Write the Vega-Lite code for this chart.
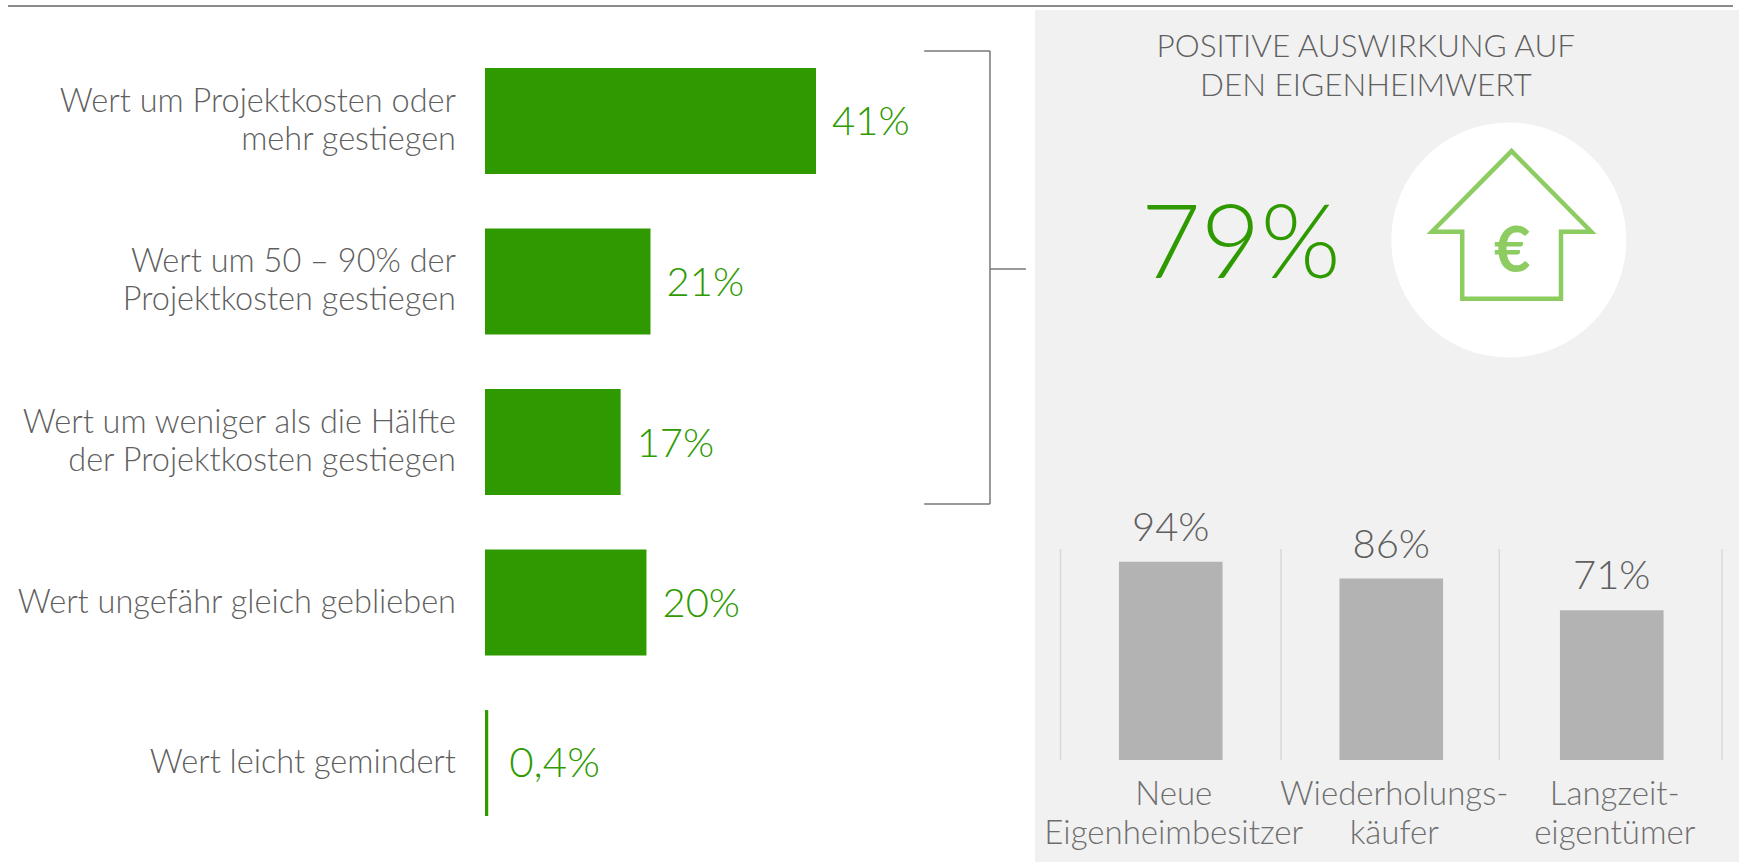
{
"$schema":"https://vega.github.io/schema/vega-lite/v6.json",
"width":1739,"height":862,"padding":0,
"autosize":{"type":"fit","contains":"padding"},
"background":"#ffffff",
"config":{"view":{"stroke":null},"text":{"font":"Lato","fontWeight":300},"axis":{"disable":true}},
"resolve":{"scale":{"x":"independent","y":"independent"}},
"layer":[
{"data":{"values":[{"part":"rule"}]},
 "mark":{"type":"rule","color":"#666666","strokeWidth":1.5},
 "encoding":{"x":{"datum":0,"type":"quantitative","scale":{"domain":[0,1],"range":[8,1733]},"axis":null},"x2":{"datum":1},
 "y":{"datum":0,"type":"quantitative","scale":{"domain":[0,1],"range":[6,862]},"axis":null}}},
{"data":{"values":[{"headline":"POSITIVE AUSWIRKUNG AUF\nDEN EIGENHEIMWERT","total":"79%","symbol":"€"}]},
 "encoding":{
  "x":{"datum":0.5,"type":"quantitative","scale":{"domain":[0,1],"range":[1035,1739]},"axis":null},
  "y":{"datum":0.5,"type":"quantitative","scale":{"domain":[0,1],"range":[10,862]},"axis":null}},
 "layer":[
  {"mark":{"type":"rect","fill":"#f1f1f1"},"encoding":{"x":{"datum":0,"type":"quantitative"},"x2":{"datum":1},"y":{"datum":0,"type":"quantitative"},"y2":{"datum":1}}},
  {"mark":{"type":"text","fontSize":31.5,"color":"#5f5f5f","lineBreak":"\n","lineHeight":39,"align":"center","baseline":"middle"},
   "encoding":{"x":{"datum":0.47,"type":"quantitative"},"y":{"datum":0.0446,"type":"quantitative"},"text":{"field":"headline"}}},
  {"mark":{"type":"text","fontSize":103,"color":"#2e9a00","align":"center","baseline":"middle"},
   "encoding":{"x":{"datum":0.2926,"type":"quantitative"},"y":{"datum":0.278,"type":"quantitative"},"text":{"field":"total"}}},
  {"mark":{"type":"point","filled":true,"fill":"#ffffff","shape":"circle","size":55225,"opacity":1},
   "encoding":{"x":{"datum":0.673,"type":"quantitative"},"y":{"datum":0.27,"type":"quantitative"}}},
  {"mark":{"type":"point","filled":false,"stroke":"#8ccc60","strokeWidth":4.5,"opacity":1,"size":101500,"shape":"M0,-0.464L0.5,0.042L0.31,0.042L0.31,0.464L-0.31,0.464L-0.31,0.042L-0.5,0.042Z"},
   "encoding":{"x":{"datum":0.677,"type":"quantitative"},"y":{"datum":0.2523,"type":"quantitative"}}},
  {"mark":{"type":"text","fontSize":63,"fontWeight":700,"color":"#8ccc60","align":"center","baseline":"middle"},
   "encoding":{"x":{"datum":0.678,"type":"quantitative"},"y":{"datum":0.285,"type":"quantitative"},"text":{"field":"symbol"}}}
 ]},
{"data":{"values":[{"edge":0},{"edge":1},{"edge":1.99},{"edge":3}]},
 "mark":{"type":"rule","color":"#d9d9d9","strokeWidth":1.5},
 "encoding":{"x":{"field":"edge","type":"quantitative","scale":{"domain":[0,3],"range":[1060.5,1722]},"axis":null},
  "y":{"datum":0,"type":"quantitative","scale":{"domain":[0,100],"range":[760,549]},"axis":null},"y2":{"datum":100}}},
{"data":{"values":[
  {"group":"Neue\nEigenheimbesitzer","value":94,"label":"94%"},
  {"group":"Wiederholungs-\nkäufer","value":86,"label":"86%"},
  {"group":"Langzeit-\neigentümer","value":71,"label":"71%"}]},
 "encoding":{
  "x":{"field":"group","type":"nominal","sort":null,"scale":{"range":[1060.5,1722],"paddingInner":0.53,"paddingOuter":0.265},"axis":null},
  "y":{"field":"value","type":"quantitative","scale":{"domain":[0,100],"range":[760,549]},"axis":null}},
 "layer":[
  {"mark":{"type":"bar","fill":"#b3b3b3"}},
  {"mark":{"type":"text","fontSize":40,"color":"#5f5f5f","align":"center","baseline":"alphabetic","dy":-21},"encoding":{"text":{"field":"label"}}},
  {"mark":{"type":"text","fontSize":33,"color":"#6e6e6e","lineBreak":"\n","lineHeight":39,"align":"center","baseline":"middle","dx":3,"dy":35},
   "encoding":{"y":{"datum":0,"type":"quantitative"},"text":{"field":"group"}}}
 ]},
{"data":{"values":[
  {"category":"Wert um Projektkosten oder\nmehr gestiegen","value":41,"label":"41%"},
  {"category":"Wert um 50 – 90% der\nProjektkosten gestiegen","value":20.5,"label":"21%"},
  {"category":"Wert um weniger als die Hälfte\nder Projektkosten gestiegen","value":16.8,"label":"17%"},
  {"category":"Wert ungefähr gleich geblieben","value":20,"label":"20%"},
  {"category":"Wert leicht gemindert","value":0.4,"label":"0,4%"}]},
 "encoding":{
  "x":{"field":"value","type":"quantitative","scale":{"domain":[0,41],"range":[485,816]},"axis":null},
  "y":{"field":"category","type":"nominal","sort":null,"scale":{"range":[68,816],"paddingInner":0.34,"paddingOuter":0},"axis":null}},
 "layer":[
  {"mark":{"type":"bar","fill":"#2e9a00"}},
  {"transform":[{"filter":"datum.value >= 1"}],"mark":{"type":"text","fontSize":40,"color":"#2e9a00","align":"left","baseline":"middle","dx":16,"dy":2.5},"encoding":{"text":{"field":"label"}}},
  {"transform":[{"filter":"datum.value < 1"}],"mark":{"type":"text","fontSize":42,"color":"#2e9a00","align":"left","baseline":"middle","dx":21,"dy":1},"encoding":{"text":{"field":"label"}}},
  {"transform":[{"filter":"indexof(datum.category, '\\n') >= 0"}],"mark":{"type":"text","fontSize":32.5,"color":"#5f5f5f","lineBreak":"\n","lineHeight":38,"align":"right","baseline":"middle","dx":-29,"dy":-19},
   "encoding":{"x":{"datum":0,"type":"quantitative"},"text":{"field":"category"}}},
  {"transform":[{"filter":"indexof(datum.category, '\\n') < 0"}],"mark":{"type":"text","fontSize":32.5,"color":"#5f5f5f","align":"right","baseline":"middle","dx":-29},
   "encoding":{"x":{"datum":0,"type":"quantitative"},"text":{"field":"category"}}}
 ]},
{"data":{"values":[{"part":"bracket"}]},
 "encoding":{
  "x":{"datum":54.4,"type":"quantitative","scale":{"domain":[0,41],"range":[485,816]},"axis":null},
  "y":{"datum":0,"type":"quantitative","scale":{"domain":[0,79],"range":[51,504]},"axis":null}},
 "layer":[
  {"mark":{"type":"rule","color":"#777777","strokeWidth":1.5},"encoding":{"x2":{"datum":62.55}}},
  {"mark":{"type":"rule","color":"#777777","strokeWidth":1.5},"encoding":{"y":{"datum":79,"type":"quantitative"},"x2":{"datum":62.55}}},
  {"mark":{"type":"rule","color":"#777777","strokeWidth":1.5},"encoding":{"x":{"datum":62.55,"type":"quantitative"},"y2":{"datum":79}}},
  {"mark":{"type":"rule","color":"#777777","strokeWidth":1.5},"encoding":{"x":{"datum":62.55,"type":"quantitative"},"x2":{"datum":67},"y":{"datum":38,"type":"quantitative"}}}
 ]}
]}
